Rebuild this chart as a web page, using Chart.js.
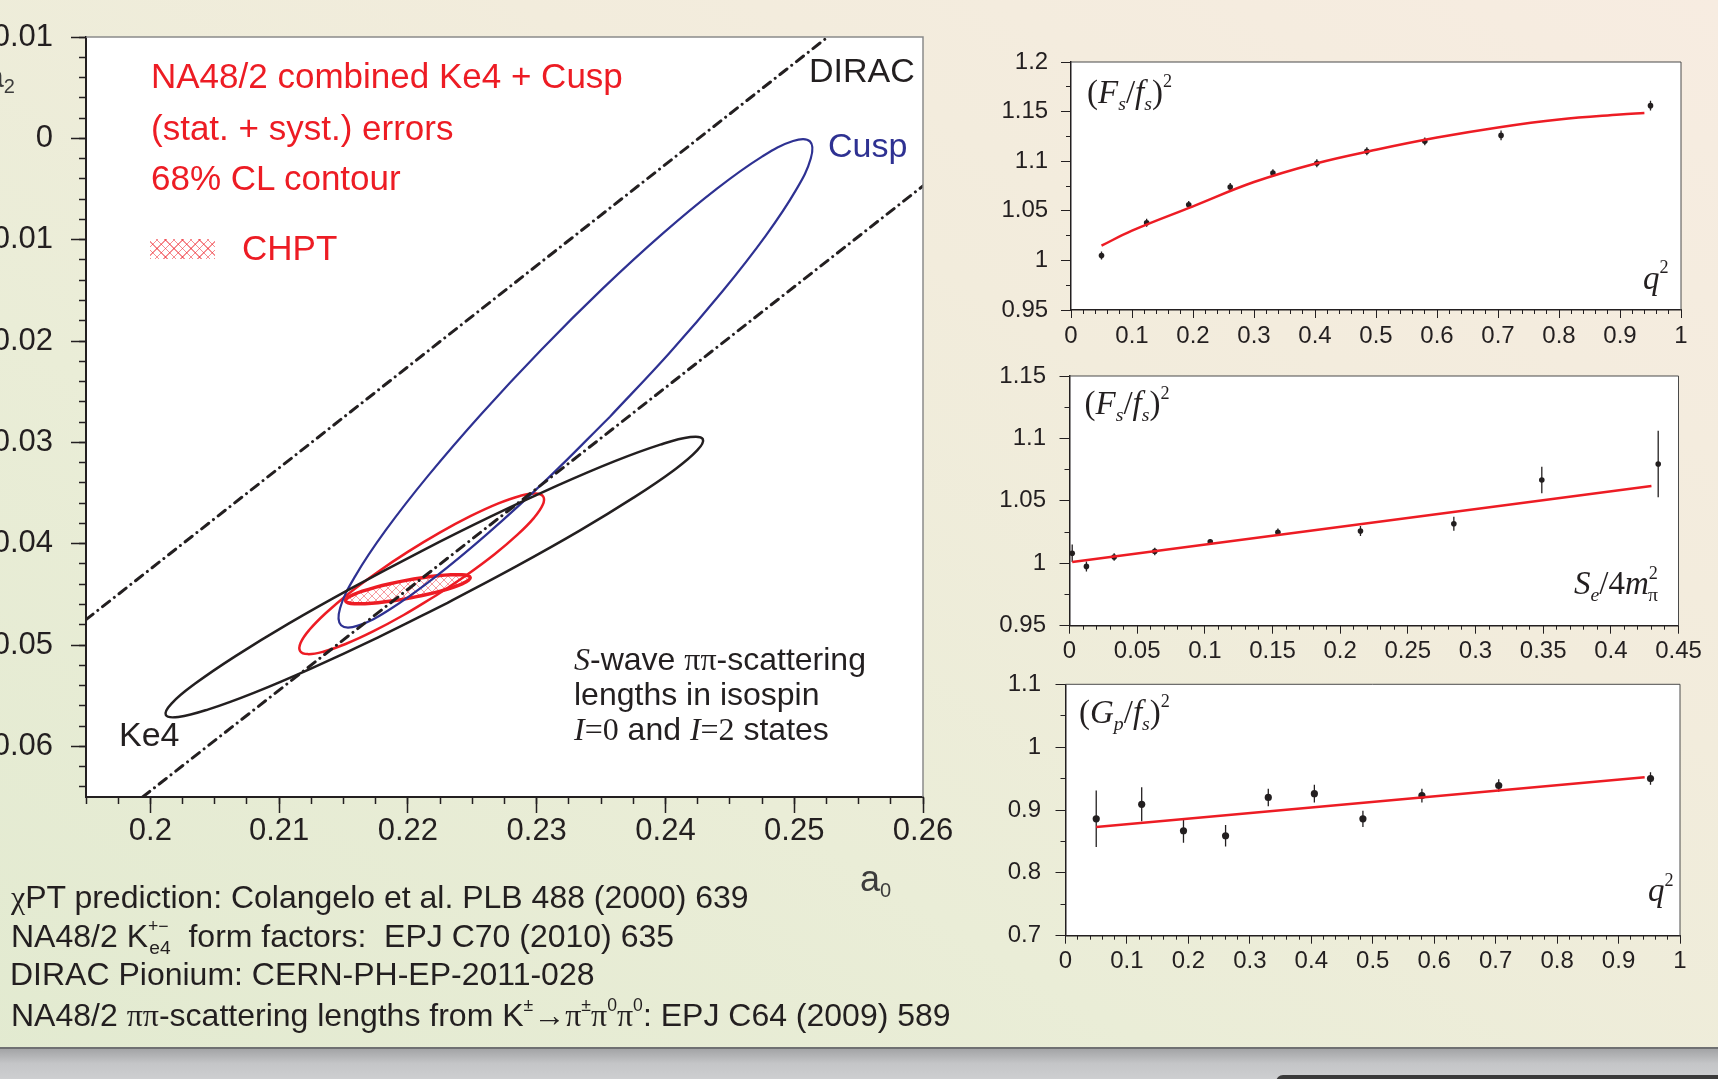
<!DOCTYPE html>
<html>
<head>
<meta charset="utf-8">
<title>NA48/2 pi-pi scattering lengths</title>
<script src="https://cdn.jsdelivr.net/npm/chart.js@4.4.1/dist/chart.umd.min.js"></script>
<style>
html,body{margin:0;padding:0;}
body{position:relative;width:1718px;height:1079px;overflow:hidden;
 background:linear-gradient(to top right,#e2ead0 0%,#eaedd7 35%,#f2ecdc 65%,#f7ece1 100%);
 font-family:Arial,"Liberation Sans",Helvetica,sans-serif;color:#231f20;}
canvas{position:absolute;left:0;top:0;}
.t{position:absolute;white-space:nowrap;line-height:1;}
.ser{font-family:"Liberation Serif","Times New Roman",Times,serif;}
.sb{font-size:0.6em;position:relative;top:0.35em;}
.sp{font-size:0.55em;position:relative;top:-0.85em;}
#bar{position:absolute;left:0;top:1047px;width:1718px;height:32px;border-top:2px solid #6f7072;background:linear-gradient(#a3a4a6,#c4c5c7 45%,#cfd0d2);}
#knob{position:absolute;left:1276px;top:1075px;width:460px;height:14px;border-radius:9px;background:#3a3a3a;}
#hatch{position:absolute;left:150px;top:239px;width:65px;height:20px;background:
 repeating-linear-gradient(45deg,rgba(237,28,36,.5) 0 1px,transparent 1px 6px),
 repeating-linear-gradient(-45deg,rgba(237,28,36,.5) 0 1px,transparent 1px 6px);}
.red{color:#ed1c24;}
.blue{color:#2e3192;}
</style>
</head>
<body>
<canvas id="cMain" width="1718" height="1079"></canvas>
<canvas id="c1" width="1718" height="1079"></canvas>
<canvas id="c2" width="1718" height="1079"></canvas>
<canvas id="c3" width="1718" height="1079"></canvas>

<!-- main plot annotations -->
<div class="t red" style="left:151px;top:57.8px;font-size:35px">NA48/2 combined Ke4 + Cusp</div>
<div class="t red" style="left:151px;top:109.8px;font-size:35px">(stat. + syst.) errors</div>
<div class="t red" style="left:151px;top:160.3px;font-size:35px">68% CL contour</div>
<div id="hatch"></div>
<div class="t red" style="left:242px;top:230.3px;font-size:35px">CHPT</div>
<div class="t" style="left:809px;top:53.3px;font-size:34px">DIRAC</div>
<div class="t blue" style="left:828px;top:128.3px;font-size:34px">Cusp</div>
<div class="t" style="left:119px;top:716.6px;font-size:34px">Ke4</div>
<div class="t" style="left:574px;top:641.7px;font-size:32px;line-height:35px"><span class="ser"><i>S</i></span>-wave <span class="ser">ππ</span>-scattering<br>lengths in isospin<br><span class="ser"><i>I</i>=0</span> and <span class="ser"><i>I</i>=2</span> states</div>
<div class="t" style="left:860px;top:861px;font-size:36px;color:#3c3c3c">a<span style="font-size:20px;position:relative;top:6px">0</span></div>
<div class="t" style="left:-14px;top:60px;font-size:32px;color:#3c3c3c">a<span style="font-size:20px;position:relative;top:6px">2</span></div>

<!-- references -->
<div class="t" style="left:11px;top:881.2px;font-size:32px"><span class="ser">χ</span>PT prediction: Colangelo et al. PLB 488 (2000) 639</div>
<div class="t" style="left:11px;top:920.2px;font-size:32px">NA48/2 K<span class="sp">+−</span><span class="sb" style="margin-left:-1.0em">e4</span>&nbsp; form factors:&nbsp; EPJ C70 (2010) 635</div>
<div class="t" style="left:10px;top:957.7px;font-size:32px">DIRAC Pionium: CERN-PH-EP-2011-028</div>
<div class="t" style="left:11px;top:999.4px;font-size:32px">NA48/2 <span class="ser">ππ</span>-scattering lengths from K<span class="sp">±</span>→<span class="ser">π</span><span class="sp">±</span><span class="ser">π</span><span class="sp">0</span><span class="ser">π</span><span class="sp">0</span>: EPJ C64 (2009) 589</div>

<!-- form factor panel labels -->
<div class="t ser" style="left:1087px;top:75.7px;font-size:33px">(<i>F</i><span class="sb"><i>s</i></span>/<i>f</i><span class="sb"><i>s</i></span>)<span class="sp">2</span></div>
<div class="t ser" style="left:1643px;top:261.8px;font-size:33px"><i>q</i><span class="sp">2</span></div>
<div class="t ser" style="left:1084.5px;top:387.4px;font-size:33px">(<i>F</i><span class="sb"><i>s</i></span>/<i>f</i><span class="sb"><i>s</i></span>)<span class="sp">2</span></div>
<div class="t ser" style="left:1574px;top:567.4px;font-size:33px"><i>S</i><span class="sb"><i>e</i></span>/4<i>m</i><span class="sp">2</span><span class="sb" style="margin-left:-0.5em">π</span></div>
<div class="t ser" style="left:1079px;top:695.7px;font-size:33px">(<i>G</i><span class="sb"><i>p</i></span>/<i>f</i><span class="sb"><i>s</i></span>)<span class="sp">2</span></div>
<div class="t ser" style="left:1648px;top:874px;font-size:33px"><i>q</i><span class="sp">2</span></div>

<div id="bar"></div>
<div id="knob"></div>

<script>
const FONT = 'Arial, "Liberation Sans", Helvetica, sans-serif';
const INK = '#231f20', RED = '#ed1c24', BLUE = '#2e3192';

// ---------- main plot: a0 (x) vs a2 (y) ----------
const a0TickValues = [0.2, 0.21, 0.22, 0.23, 0.24, 0.25, 0.26];
const a0TickLabels = ['0.2', '0.21', '0.22', '0.23', '0.24', '0.25', '0.26'];
const a2TickValues = [-0.06, -0.05, -0.04, -0.03, -0.02, -0.01, 0, 0.01];
const a2TickLabels = ['-0.06', '-0.05', '-0.04', '-0.03', '-0.02', '-0.01', '0', '0.01'];

// DIRAC band (dash-dot lines)
const diracUpperX = [0.195, 0.2526];
const diracUpperY = [-0.0475, 0.0100];
const diracLowerX = [0.1994, 0.2600];
const diracLowerY = [-0.0650, -0.0047];

// Ke4 68% CL contour (black)
const ke4X = [0.24290,0.24246,0.24063,0.23752,0.23337,0.22844,0.22308,0.21765,0.21251,0.20803,0.20451,0.20217,0.20120,0.20164,0.20348,0.20658,0.21073,0.21566,0.22102,0.22645,0.23159,0.23607,0.23960,0.24193];
const ke4Y = [-0.02968,-0.03080,-0.03277,-0.03546,-0.03869,-0.04222,-0.04584,-0.04927,-0.05230,-0.05472,-0.05635,-0.05710,-0.05691,-0.05578,-0.05381,-0.05112,-0.04789,-0.04436,-0.04075,-0.03731,-0.03428,-0.03186,-0.03023,-0.02948];

// Cusp 68% CL contour (blue)
const cuspX = [0.25122,0.25129,0.25012,0.24778,0.24443,0.24031,0.23569,0.23089,0.22623,0.22203,0.21858,0.21612,0.21481,0.21473,0.21591,0.21825,0.22159,0.22572,0.23034,0.23514,0.23980,0.24400,0.24744,0.24991];
const cuspY = [-0.00030,-0.00196,-0.00514,-0.00962,-0.01509,-0.02118,-0.02747,-0.03353,-0.03896,-0.04338,-0.04650,-0.04809,-0.04805,-0.04638,-0.04320,-0.03872,-0.03326,-0.02717,-0.02088,-0.01481,-0.00938,-0.00496,-0.00185,-0.00026];

// NA48/2 combined Ke4 + Cusp contour (red)
const combX = [0.23051,0.23047,0.22979,0.22851,0.22673,0.22456,0.22215,0.21967,0.21729,0.21516,0.21343,0.21223,0.21163,0.21167,0.21235,0.21363,0.21541,0.21758,0.21999,0.22247,0.22485,0.22698,0.22870,0.22991];
const combY = [-0.03535,-0.03617,-0.03745,-0.03911,-0.04104,-0.04309,-0.04514,-0.04704,-0.04866,-0.04990,-0.05066,-0.05090,-0.05060,-0.04978,-0.04850,-0.04684,-0.04491,-0.04286,-0.04081,-0.03891,-0.03729,-0.03605,-0.03529,-0.03505];

// ChPT prediction (hatched red)
const chptX = [0.22484,0.22471,0.22425,0.22351,0.22253,0.22137,0.22012,0.21886,0.21768,0.21666,0.21586,0.21534,0.21515,0.21528,0.21573,0.21647,0.21746,0.21861,0.21986,0.22112,0.22231,0.22333,0.22413,0.22464];
const chptY = [-0.04335,-0.04361,-0.04394,-0.04430,-0.04468,-0.04504,-0.04537,-0.04564,-0.04583,-0.04592,-0.04593,-0.04583,-0.04564,-0.04538,-0.04505,-0.04469,-0.04431,-0.04395,-0.04362,-0.04336,-0.04317,-0.04307,-0.04307,-0.04316];

// ---------- panel 1: (Fs/fs)^2 vs q^2 ----------
const p1X = [0.050,0.124,0.193,0.261,0.331,0.403,0.485,0.580,0.705,0.950];
const p1Y = [1.005,1.038,1.056,1.074,1.088,1.098,1.110,1.120,1.126,1.156];
const p1Err = [0.004,0.004,0.004,0.004,0.004,0.004,0.004,0.004,0.005,0.005];
const p1FitX = [0.05,0.1,0.2,0.3,0.4,0.5,0.6,0.7,0.8,0.9,0.94];
const p1FitY = [1.0148,1.0300,1.0545,1.0790,1.0975,1.1115,1.1238,1.1340,1.1420,1.1470,1.1485];
const p1XTicks = [0,0.1,0.2,0.3,0.4,0.5,0.6,0.7,0.8,0.9,1];
const p1XLabels = ['0','0.1','0.2','0.3','0.4','0.5','0.6','0.7','0.8','0.9','1'];
const p1YTicks = [0.95,1,1.05,1.1,1.15,1.2];
const p1YLabels = ['0.95','1','1.05','1.1','1.15','1.2'];

// ---------- panel 2: (Fs/fs)^2 vs Se/4m^2 ----------
const p2X = [0.002,0.0125,0.033,0.063,0.104,0.154,0.215,0.284,0.349,0.435];
const p2Y = [1.008,0.9975,1.005,1.0095,1.0173,1.0248,1.0258,1.0317,1.0667,1.0795];
const p2Err = [0.007,0.004,0.003,0.003,0.002,0.003,0.004,0.0056,0.0107,0.0267];
const p2FitX = [0.002,0.430];
const p2FitY = [1.001,1.0619];
const p2XTicks = [0,0.05,0.1,0.15,0.2,0.25,0.3,0.35,0.4,0.45];
const p2XLabels = ['0','0.05','0.1','0.15','0.2','0.25','0.3','0.35','0.4','0.45'];
const p2YTicks = [0.95,1,1.05,1.1,1.15];
const p2YLabels = ['0.95','1','1.05','1.1','1.15'];

// ---------- panel 3: (Gp/fs)^2 vs q^2 ----------
const p3X = [0.050,0.124,0.192,0.2605,0.330,0.405,0.484,0.580,0.705,0.952];
const p3Y = [0.886,0.909,0.867,0.859,0.920,0.926,0.886,0.923,0.939,0.950];
const p3Err = [0.045,0.027,0.019,0.017,0.014,0.014,0.013,0.011,0.010,0.010];
const p3FitX = [0.05,0.9425];
const p3FitY = [0.873,0.952];
const p3YTicks = [0.7,0.8,0.9,1,1.1];
const p3YLabels = ['0.7','0.8','0.9','1','1.1'];

// ---------- helpers ----------
function range(a, b, s) { const o = []; const n = Math.round((b - a) / s); for (let i = 0; i <= n; i++) o.push(+(a + i * s).toFixed(6)); return o; }
function pts(xs, ys) { return xs.map((x, i) => ({x, y: ys[i]})); }
function loop(xs, ys, start) { const n = xs.length, o = []; for (let k = 0; k <= n; k++) { const i = (start + k) % n; o.push({x: xs[i], y: ys[i]}); } return o; }
function bars(xs, ys, es) { const o = []; xs.forEach((x, i) => { o.push({x, y: ys[i] - es[i]}, {x, y: ys[i] + es[i]}, {x, y: null}); }); return o; }

function makeHatch() {
  const c = document.createElement('canvas'); c.width = 8; c.height = 8;
  const g = c.getContext('2d');
  g.strokeStyle = 'rgba(237,28,36,0.55)'; g.lineWidth = 0.8;
  g.beginPath(); g.moveTo(0, 0); g.lineTo(8, 8); g.moveTo(8, 0); g.lineTo(0, 8); g.stroke();
  return g.createPattern(c, 'repeat');
}

const plotFrame = {
  id: 'plotFrame',
  beforeDraw(chart) {
    const {ctx, chartArea: a} = chart;
    ctx.save(); ctx.fillStyle = '#ffffff'; ctx.fillRect(a.left, a.top, a.right - a.left, a.bottom - a.top); ctx.restore();
  },
  afterDraw(chart, args, opts) {
    const {ctx, chartArea: a} = chart;
    ctx.save(); ctx.strokeStyle = opts.color || '#888'; ctx.lineWidth = opts.width || 1;
    ctx.beginPath(); ctx.moveTo(a.left, a.top); ctx.lineTo(a.right, a.top); ctx.lineTo(a.right, a.bottom); ctx.stroke();
    ctx.restore();
  }
};

function majorAxis(pos, o) {
  return {
    type: 'linear', position: pos, min: o.min, max: o.max, bounds: 'data', weight: 1,
    afterBuildTicks: s => { s.ticks = o.vals.map(v => ({value: v})); },
    afterFit: s => { if (pos === 'left') s.width = o.size; else s.height = o.size; },
    ticks: { autoSkip: false, maxRotation: 0, minRotation: 0, padding: o.pad, color: INK,
             font: {family: FONT, size: o.font}, callback: (v, i) => o.labels[i] },
    grid: { display: true, drawOnChartArea: false, drawTicks: true, tickLength: o.tl, tickWidth: o.tw, tickColor: INK },
    border: { display: true, color: INK, width: o.bw }
  };
}
function minorAxis(pos, o) {
  return {
    type: 'linear', position: pos, min: o.min, max: o.max, bounds: 'data', weight: 0,
    afterBuildTicks: s => { s.ticks = o.minor.map(v => ({value: v})); },
    afterFit: s => { if (pos === 'left') s.width = 0; else s.height = 0; },
    ticks: { display: false },
    grid: { display: true, drawOnChartArea: false, drawTicks: true, tickLength: o.mtl, tickWidth: o.tw, tickColor: INK },
    border: { display: false }
  };
}

function makeChart(id, box, xAx, yAx, datasets, frame) {
  datasets.forEach(d => { d.xAxisID = 'x'; d.yAxisID = 'y'; });
  return new Chart(document.getElementById(id), {
    type: 'scatter',
    data: { datasets },
    options: {
      responsive: false, animation: false, devicePixelRatio: 1, events: [],
      layout: { padding: { left: box.l - yAx.size, top: box.t, right: 1718 - box.r, bottom: 1079 - box.b - xAx.size } },
      plugins: { legend: {display: false}, tooltip: {enabled: false}, plotFrame: frame },
      scales: {
        x: majorAxis('bottom', xAx), xm: minorAxis('bottom', xAx),
        y: majorAxis('left', yAx), ym: minorAxis('left', yAx)
      }
    },
    plugins: [plotFrame]
  });
}

// ---------- main chart ----------
const dashDot = { showLine: true, borderColor: INK, borderWidth: 3, borderDash: [9, 6, 0.01, 6], borderCapStyle: 'round', pointRadius: 0, fill: false };
const contour = { showLine: true, pointRadius: 0, tension: 0.4, fill: false };

makeChart('cMain', {l: 86, t: 37, r: 923, b: 797},
  {min: 0.195, max: 0.26, vals: a0TickValues, labels: a0TickLabels, minor: range(0.195, 0.26, 0.0025), tl: 16, mtl: 7, tw: 1.5, bw: 2, font: 31, pad: 0, size: 70},
  {min: -0.065, max: 0.01, vals: a2TickValues, labels: a2TickLabels, minor: range(-0.064, 0.01, 0.002), tl: 15, mtl: 7, tw: 1.5, bw: 2, font: 31, pad: 18, size: 86},
  [
    Object.assign({label: 'DIRAC upper', data: pts(diracUpperX, diracUpperY)}, dashDot),
    Object.assign({label: 'DIRAC lower', data: pts(diracLowerX, diracLowerY)}, dashDot),
    Object.assign({label: 'Ke4', data: loop(ke4X, ke4Y, 6), borderColor: INK, borderWidth: 2.5}, contour),
    Object.assign({label: 'Cusp', data: loop(cuspX, cuspY, 6), borderColor: BLUE, borderWidth: 2.2}, contour),
    Object.assign({label: 'NA48/2 combined', data: loop(combX, combY, 6), borderColor: RED, borderWidth: 2.5}, contour),
    Object.assign({}, contour, {label: 'CHPT', data: loop(chptX, chptY, 6), borderColor: RED, borderWidth: 3.5, fill: 'shape', backgroundColor: makeHatch()})
  ],
  {color: '#8a8a8a', width: 1.5});

// ---------- panels ----------
function panelSets(xs, ys, es, fx, fy, r, tension) {
  return [
    {label: 'fit', data: pts(fx, fy), showLine: true, borderColor: RED, borderWidth: 2.5, pointRadius: 0, tension: tension, fill: false},
    {label: 'errors', data: bars(xs, ys, es), showLine: true, borderColor: INK, borderWidth: 1.3, pointRadius: 0, spanGaps: false, fill: false},
    {label: 'data', data: pts(xs, ys), showLine: false, pointRadius: r, pointBackgroundColor: INK, pointBorderColor: INK, pointBorderWidth: 0}
  ];
}
const subFrame = {color: '#4a4a4a', width: 1};

makeChart('c1', {l: 1071, t: 62, r: 1681, b: 310},
  {min: 0, max: 1, vals: p1XTicks, labels: p1XLabels, minor: range(0, 1, 0.02), tl: 8, mtl: 4, tw: 1, bw: 1.5, font: 24, pad: 3.5, size: 44},
  {min: 0.95, max: 1.2, vals: p1YTicks, labels: p1YLabels, minor: range(0.95, 1.2, 0.025), tl: 10, mtl: 5, tw: 1, bw: 1.5, font: 24, pad: 12.8, size: 90},
  panelSets(p1X, p1Y, p1Err, p1FitX, p1FitY, 2.8, 0.4), subFrame);

makeChart('c2', {l: 1069.5, t: 376, r: 1678.5, b: 625.7},
  {min: 0, max: 0.45, vals: p2XTicks, labels: p2XLabels, minor: range(0, 0.45, 0.01), tl: 8, mtl: 4, tw: 1, bw: 1.5, font: 24, pad: 3, size: 44},
  {min: 0.95, max: 1.15, vals: p2YTicks, labels: p2YLabels, minor: range(0.95, 1.15, 0.025), tl: 10, mtl: 5, tw: 1, bw: 1.5, font: 24, pad: 13.5, size: 90},
  panelSets(p2X, p2Y, p2Err, p2FitX, p2FitY, 2.8, 0), subFrame);

makeChart('c3', {l: 1065.5, t: 684.3, r: 1680, b: 935.7},
  {min: 0, max: 1, vals: p1XTicks, labels: p1XLabels, minor: range(0, 1, 0.02), tl: 8, mtl: 4, tw: 1, bw: 1.5, font: 24, pad: 3.5, size: 44},
  {min: 0.7, max: 1.1, vals: p3YTicks, labels: p3YLabels, minor: range(0.7, 1.1, 0.05), tl: 10, mtl: 5, tw: 1, bw: 1.5, font: 24, pad: 14.4, size: 90},
  panelSets(p3X, p3Y, p3Err, p3FitX, p3FitY, 3.6, 0), subFrame);
</script>
</body>
</html>
